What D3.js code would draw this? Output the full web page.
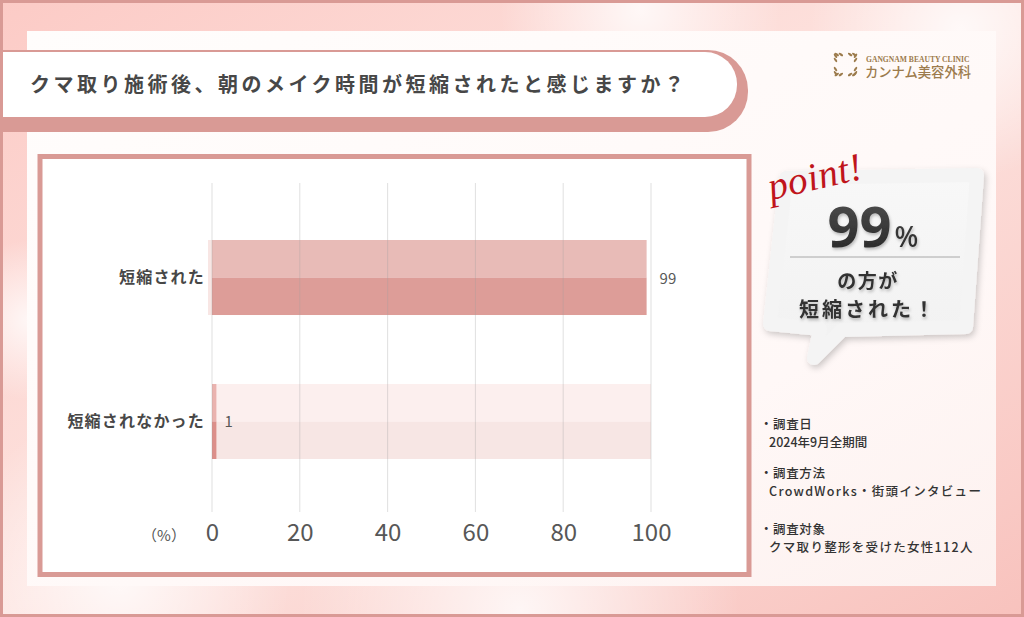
<!DOCTYPE html>
<html>
<head>
<meta charset="utf-8">
<script src="https://cdn.jsdelivr.net/npm/d3@7"></script>
<style>
  html, body { margin: 0; padding: 0; background: #fff; }
  svg { display: block; font-family: "Noto Sans CJK JP", "Noto Sans", sans-serif; }
</style>
</head>
<body>
<div id="app"></div>
<script>
// chart values
const title = 'クマ取り施術後、朝のメイク時間が短縮されたと感じますか？';
const categories = ['短縮された', '短縮されなかった'];
const values = [99, 1];
const xTicks = [0, 20, 40, 60, 80, 100];
const pointValue = '99';
const pointLines = ['の方が', '短縮された！'];
const notes = [
  ['・調査日', '2024年9月全期間'],
  ['・調査方法', 'CrowdWorks・街頭インタビュー'],
  ['・調査対象', 'クマ取り整形を受けた女性112人']
];

const W = 1024, H = 617;
const pink = '#d99a95';

const svg = d3.select('#app').append('svg')
  .attr('width', W).attr('height', H);

const defs = svg.append('defs');

// background gradients
const bg = defs.append('linearGradient').attr('id', 'bg')
  .attr('x1', 0).attr('y1', 0).attr('x2', 1).attr('y2', 1);
bg.append('stop').attr('offset', '0%').attr('stop-color', '#fccbc6');
bg.append('stop').attr('offset', '50%').attr('stop-color', '#fde3df');
bg.append('stop').attr('offset', '100%').attr('stop-color', '#f8c2bd');

const glow = defs.append('radialGradient').attr('id', 'glow');
glow.append('stop').attr('offset', '0%').attr('stop-color', '#ffffff').attr('stop-opacity', 0.8);
glow.append('stop').attr('offset', '100%').attr('stop-color', '#ffffff').attr('stop-opacity', 0);

const panelGrad = defs.append('linearGradient').attr('id', 'panel')
  .attr('x1', 0).attr('y1', 0).attr('x2', 1).attr('y2', 1);
panelGrad.append('stop').attr('offset', '0%').attr('stop-color', '#fffdfc');
panelGrad.append('stop').attr('offset', '70%').attr('stop-color', '#fff8f7');
panelGrad.append('stop').attr('offset', '100%').attr('stop-color', '#fdf1ef');

const bubbleGrad = defs.append('linearGradient').attr('id', 'bubble')
  .attr('x1', 0).attr('y1', 0).attr('x2', 0).attr('y2', 1);
bubbleGrad.append('stop').attr('offset', '0%').attr('stop-color', '#f8f8f8');
bubbleGrad.append('stop').attr('offset', '100%').attr('stop-color', '#f1f1f1');

const numGrad = defs.append('linearGradient').attr('id', 'num')
  .attr('x1', 0).attr('y1', 0).attr('x2', 0).attr('y2', 1);
numGrad.append('stop').attr('offset', '0%').attr('stop-color', '#555');
numGrad.append('stop').attr('offset', '100%').attr('stop-color', '#222');

const shadow = defs.append('filter').attr('id', 'shadow')
  .attr('x', '-20%').attr('y', '-20%').attr('width', '140%').attr('height', '140%');
shadow.append('feDropShadow').attr('dx', 2).attr('dy', 3)
  .attr('stdDeviation', 3).attr('flood-color', '#000').attr('flood-opacity', 0.2);

const textShadow = defs.append('filter').attr('id', 'tshadow')
  .attr('x', '-10%').attr('y', '-30%').attr('width', '120%').attr('height', '160%');
textShadow.append('feDropShadow').attr('dx', 1).attr('dy', 2)
  .attr('stdDeviation', 1.5).attr('flood-color', '#000').attr('flood-opacity', 0.25);

// page background
svg.append('rect').attr('width', W).attr('height', H).attr('fill', 'url(#bg)');
[[120, 580, 170], [520, 610, 220], [960, 30, 150], [640, 10, 140], [30, 320, 80]].forEach(c => {
  svg.append('circle').attr('cx', c[0]).attr('cy', c[1]).attr('r', c[2]).attr('fill', 'url(#glow)');
});
svg.append('rect').attr('x', 1.5).attr('y', 1.5).attr('width', W - 3).attr('height', H - 3)
  .attr('fill', 'none').attr('stroke', pink).attr('stroke-width', 3);

// inner panel
svg.append('rect').attr('x', 27).attr('y', 31).attr('width', 969).attr('height', 555)
  .attr('fill', 'url(#panel)');

// title banner
function banner(x0, y0, x1, y1, r) {
  return `M${x0},${y0} H${x1 - r} A${r},${r} 0 0 1 ${x1},${y0 + r} V${y1 - r} A${r},${r} 0 0 1 ${x1 - r},${y1} H${x0} Z`;
}
svg.append('path').attr('d', banner(3, 50, 748, 132, 40)).attr('fill', pink);
svg.append('path').attr('d', banner(3, 52, 737, 117, 32)).attr('fill', '#ffffff');
svg.append('text').attr('x', 30).attr('y', 92)
  .attr('font-size', 20).attr('font-weight', 700).attr('fill', '#474747')
  .attr('letter-spacing', 3.5)
  .text(title);

// logo
const logo = svg.append('g').attr('fill', '#9c7b4c');
const iconBox = [834, 53, 23];
const leaf = (cx, cy, rot) => logo.append('ellipse')
  .attr('cx', cx).attr('cy', cy).attr('rx', 2.6).attr('ry', 1.1)
  .attr('transform', `rotate(${rot},${cx},${cy})`);
[0.12, 0.3, 0.7, 0.88].forEach(t => {
  const [x, y, s] = iconBox;
  leaf(x + s * t, y + 1.5, 35);
  leaf(x + s * t, y + s - 1.5, -35);
  leaf(x + 1.5, y + s * t, 55);
  leaf(x + s - 1.5, y + s * t, -55);
});
logo.append('text').attr('x', 866).attr('y', 61.5)
  .attr('font-family', '"Liberation Serif", "DejaVu Serif", serif')
  .attr('font-size', 7.6).attr('font-weight', 700).attr('letter-spacing', 0).text('GANGNAM BEAUTY CLINIC');
logo.append('text').attr('x', 865).attr('y', 76.5)
  .attr('font-size', 13.3).attr('font-weight', 500).text('カンナム美容外科');

// chart frame
svg.append('rect').attr('x', 40).attr('y', 156.5).attr('width', 709).attr('height', 418)
  .attr('fill', '#ffffff').attr('stroke', pink).attr('stroke-width', 5);

// scales
const x = d3.scaleLinear().domain([0, 100]).range([212, 651]);
const y = d3.scaleBand().domain(categories).range([186, 513])
  .paddingInner(0.479).paddingOuter(0.375);
const gridTop = 183, gridBottom = 512;

const chart = svg.append('g');

// bar tracks (to 100) and bars, split into light top / darker bottom halves
const barG = chart.selectAll('g.bar').data(categories).enter().append('g').attr('class', 'bar');
barG.each(function (c, i) {
  const g = d3.select(this);
  const y0 = y(c), bh = y.bandwidth();
  const v = values[i];
  if (i > 0) {
    g.append('rect').attr('x', x(0)).attr('y', y0).attr('width', x(100) - x(0)).attr('height', bh / 2)
      .attr('fill', '#fcefee');
    g.append('rect').attr('x', x(0)).attr('y', y0 + bh / 2).attr('width', x(100) - x(0)).attr('height', bh / 2)
      .attr('fill', '#f7e6e4');
  } else {
    g.append('rect').attr('x', x(0) - 4).attr('y', y0).attr('width', 4).attr('height', bh)
      .attr('fill', '#f8e6e4');
  }
  const bx = x(0);
  const bw = Math.max(x(v) - bx, 4);
  g.append('rect').attr('x', bx).attr('y', y0).attr('width', bw).attr('height', bh / 2)
    .attr('fill', i === 0 ? '#e8bbb7' : '#eab3af');
  g.append('rect').attr('x', bx).attr('y', y0 + bh / 2).attr('width', bw).attr('height', bh / 2)
    .attr('fill', i === 0 ? '#dd9d98' : '#dc8f8a');
});

// grid lines drawn over the bars
chart.selectAll('line.grid').data(xTicks).enter().append('line')
  .attr('class', 'grid')
  .attr('x1', d => x(d)).attr('x2', d => x(d))
  .attr('y1', gridTop).attr('y2', gridBottom)
  .attr('stroke', '#9e9e9e').attr('stroke-opacity', 0.32).attr('stroke-width', 1);

// x axis labels
const xAxis = d3.axisBottom(x).tickValues(xTicks).tickSize(0).tickPadding(0);
const ax = chart.append('g').attr('transform', `translate(0,${gridBottom + 6})`).call(xAxis);
ax.select('.domain').remove();
ax.selectAll('text')
  .attr('font-family', '"Noto Sans CJK JP", sans-serif')
  .attr('font-size', 24).attr('fill', '#575757').attr('dy', '0.95em');
chart.append('text').attr('x', 164).attr('y', 541).attr('text-anchor', 'middle')
  .attr('font-size', 15).attr('fill', '#555').text('（%）');

// category labels
const yAxis = d3.axisLeft(y).tickSize(0).tickPadding(7);
const ay = chart.append('g').attr('transform', `translate(${x(0)},0)`).call(yAxis);
ay.select('.domain').remove();
ay.selectAll('text')
  .attr('font-family', '"Noto Sans CJK JP", sans-serif')
  .attr('font-size', 16).attr('font-weight', 700).attr('fill', '#474747')
  .attr('letter-spacing', 1.2).attr('dy', '0.32em');

// value labels
chart.selectAll('text.val').data(values).enter().append('text')
  .attr('class', 'val')
  .attr('x', (d, i) => x(d) + (i === 0 ? 13 : 8))
  .attr('y', (d, i) => y(categories[i]) + y.bandwidth() / 2 + 6)
  .attr('font-size', 15).attr('fill', '#585858')
  .text(d => d);

// point bubble
const bubblePts = [[786, 178], [977, 175], [966, 327], [842, 330], [814, 358], [820, 329], [770, 324]];
svg.append('path')
  .attr('d', d3.line()(bubblePts) + 'Z')
  .attr('fill', 'url(#bubble)').attr('stroke', '#f4f4f4')
  .attr('stroke-width', 14).attr('stroke-linejoin', 'round')
  .attr('filter', 'url(#shadow)');

svg.append('text').attr('x', 771).attr('y', 200)
  .attr('transform', 'rotate(-13,771,200)')
  .attr('font-family', '"Liberation Serif", "DejaVu Serif", serif')
  .attr('font-style', 'italic').attr('font-size', 39).attr('fill', '#c0151c')
  .attr('letter-spacing', 0.5)
  .text('point!');

const num = svg.append('text').attr('x', 873).attr('y', 247).attr('text-anchor', 'middle')
  .attr('font-family', '"Noto Sans", sans-serif').attr('font-weight', 700)
  .attr('fill', 'url(#num)').attr('filter', 'url(#tshadow)');
num.append('tspan').attr('font-size', 56).text(pointValue);
num.append('tspan').attr('font-size', 28).attr('font-weight', 500).attr('dx', 3).text('%');

svg.append('line').attr('x1', 790).attr('x2', 960).attr('y1', 257).attr('y2', 257)
  .attr('stroke', '#a8a8a8').attr('stroke-width', 1);

svg.selectAll('text.pt').data(pointLines).enter().append('text')
  .attr('class', 'pt')
  .attr('x', 868).attr('y', (d, i) => 288 + i * 29)
  .attr('text-anchor', 'middle')
  .attr('font-size', (d, i) => i === 0 ? 19 : 20).attr('font-weight', 700)
  .attr('letter-spacing', (d, i) => i === 0 ? 1.5 : 3)
  .attr('fill', '#333').attr('filter', 'url(#tshadow)')
  .text(d => d);

// survey notes
const noteY = [429, 478, 534];
const noteG = svg.selectAll('g.note').data(notes).enter().append('g').attr('class', 'note');
noteG.append('text')
  .attr('x', 760).attr('y', (d, i) => noteY[i])
  .attr('font-size', 12.5).attr('font-weight', 500).attr('fill', '#333')
  .attr('letter-spacing', 0.6)
  .text(d => d[0]);
noteG.append('text')
  .attr('x', 769).attr('y', (d, i) => noteY[i] + 18)
  .attr('font-size', 12.5).attr('font-weight', 500).attr('fill', '#333')
  .attr('letter-spacing', (d, i) => i === 0 ? 0 : 1.3)
  .text(d => d[1]);
</script>
</body>
</html>
